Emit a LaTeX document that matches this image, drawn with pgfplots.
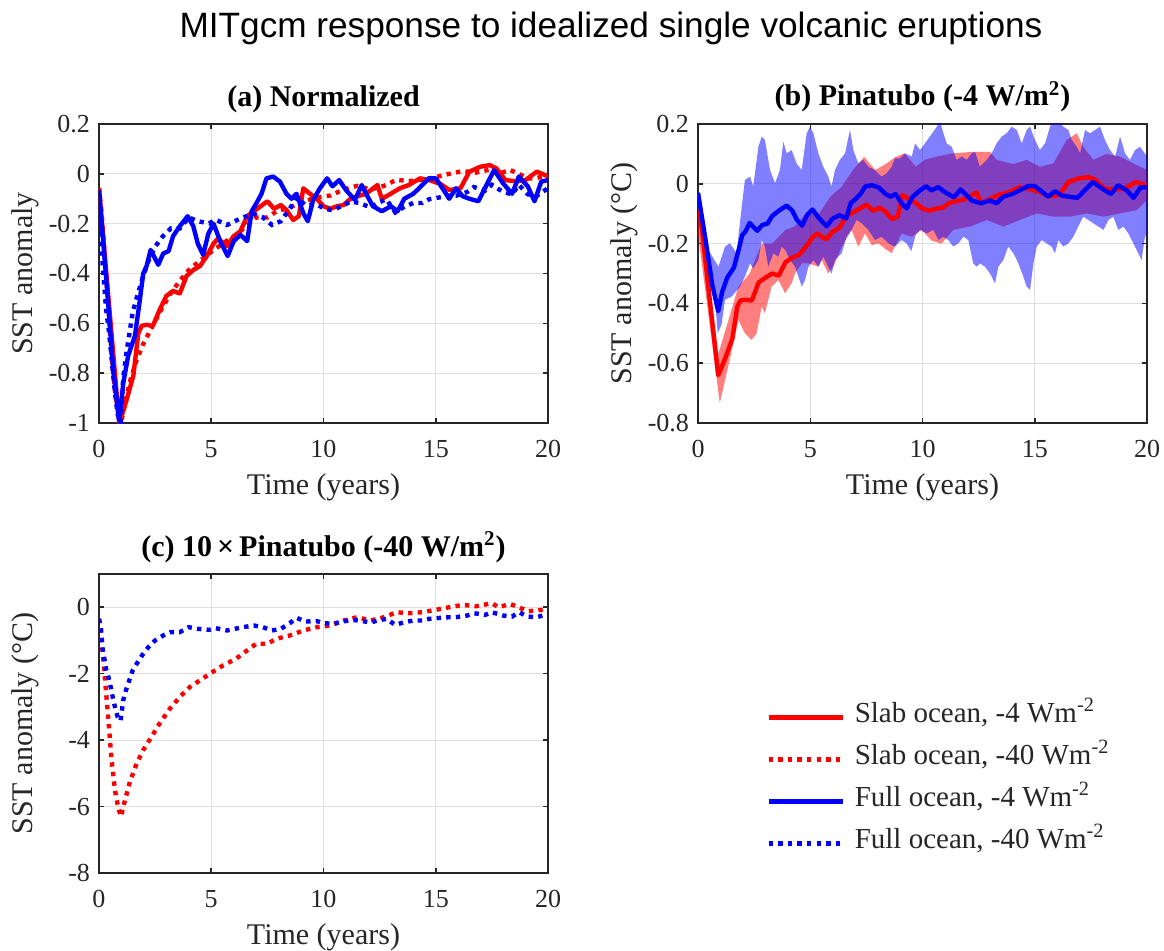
\documentclass[border=0pt]{standalone}
\usepackage{fontspec}
\setmainfont{Liberation Serif}
\newfontfamily\titlefont{Liberation Sans}
\usepackage{pgfplots}
\pgfplotsset{compat=1.18}
\usepgfplotslibrary{fillbetween}
\definecolor{axgray}{RGB}{38,38,38}
\definecolor{gridgray}{RGB}{223,223,223}
\pgfplotsset{
  redsolid/.style={color={rgb,1:red,1;green,0;blue,0}, line width=2.2pt, line join=round},
  reddot/.style={color={rgb,1:red,1;green,0;blue,0}, line width=2.2pt, dash pattern=on 2.2pt off 2.6pt},
  bluesolid/.style={color={rgb,1:red,0;green,0;blue,1}, line width=2.2pt, line join=round},
  bluedot/.style={color={rgb,1:red,0;green,0;blue,1}, line width=2.2pt, dash pattern=on 2.2pt off 2.6pt},
  mystyle/.style={
    scale only axis, width=224.5pt, height=149.5pt,
    xmin=0, xmax=20, xtick={0,5,10,15,20},
    axis line style={axgray, line width=0.75pt},
    every tick/.style={axgray, line width=0.75pt},
    major tick length=2.5pt,
    tick align=inside,
    grid=major, major grid style={gridgray, line width=0.5pt},
    /pgf/number format/assume math mode=true,
    tick label style={font=\fontsize{13}{15}\selectfont, text=axgray},
    xticklabel style={yshift=-5pt},
    yticklabel style={xshift=-1pt},
    label style={font=\fontsize{15}{18}\selectfont, text=axgray},
    xlabel style={at={(axis description cs:0.5,-0.2375)}, anchor=base},
    ylabel style={at={(axis description cs:-0.147,0.5)}, anchor=base},
    title style={font=\bfseries\fontsize{15}{18}\selectfont, at={(axis description cs:0.5,1)}, anchor=base, yshift=3pt},
    xlabel={Time (years)},
  },
}
\begin{document}
\begin{tikzpicture}
\node[font=\titlefont\fontsize{17.6}{20}\selectfont, anchor=base] at (305.5pt,-18.5pt) {MITgcm response to idealized single volcanic eruptions};

% ---------------- (a) ----------------
\begin{axis}[mystyle, at={(49.5pt,-211.5pt)}, anchor=south west,
  ymin=-1, ymax=0.2, ytick={-1,-0.8,-0.6,-0.4,-0.2,0,0.2},
  ylabel={SST anomaly}, title={(a) Normalized}]
\addplot[redsolid] coordinates {
(0,-0.058) (0.9,-1.0) (1.05,-0.96) (1.23,-0.907) (1.53,-0.81) (1.75,-0.64) (1.9,-0.61) (2.1,-0.606) (2.4,-0.61) (2.7,-0.546) (3.0,-0.49) (3.3,-0.47) (3.6,-0.48) (3.9,-0.41) (4.2,-0.386) (4.5,-0.37) (4.8,-0.33) (5.1,-0.28) (5.3,-0.26) (5.7,-0.29) (6.0,-0.25) (6.3,-0.23) (6.6,-0.17) (6.9,-0.15) (7.2,-0.13) (7.5,-0.11) (7.8,-0.14) (8.1,-0.125) (8.35,-0.145) (8.65,-0.185) (8.9,-0.17) (9.1,-0.058) (9.4,-0.08) (9.7,-0.1) (10.0,-0.13) (10.3,-0.14) (10.6,-0.13) (10.9,-0.125) (11.2,-0.1) (11.5,-0.09) (11.9,-0.08) (12.4,-0.045) (12.6,-0.1) (12.9,-0.085) (13.4,-0.058) (13.8,-0.045) (14.3,-0.018) (14.7,-0.025) (15.2,-0.04) (15.6,-0.065) (16.1,-0.058) (16.5,0.009) (17.0,0.029) (17.4,0.035) (17.7,0.022) (18.1,-0.025) (18.6,-0.03) (19.0,-0.025) (19.5,0.009) (20,-0.01)};
\addplot[reddot] coordinates {
(0,-0.056) (0.12,-0.159) (0.27,-0.349) (0.42,-0.54) (0.56,-0.73) (0.71,-0.873) (0.86,-0.96) (0.98,-1.0) (1.16,-0.921) (1.38,-0.833) (1.68,-0.746) (1.97,-0.683) (2.34,-0.619) (2.7,-0.556) (3.16,-0.484) (3.6,-0.429) (4.05,-0.381) (4.5,-0.349) (4.94,-0.317) (5.53,-0.278) (6.1,-0.246) (6.7,-0.198) (7.0,-0.175) (7.5,-0.175) (7.9,-0.151) (8.5,-0.135) (9.1,-0.111) (9.7,-0.095) (10.3,-0.087) (10.9,-0.063) (11.5,-0.048) (12.1,-0.063) (12.7,-0.048) (13.25,-0.024) (13.8,-0.029) (14.4,-0.024) (15.0,-0.013) (15.6,0) (16.2,0.011) (16.8,0.005) (17.5,0.019) (17.8,0) (18.3,0.016) (18.7,0) (19.1,-0.019) (19.5,-0.016) (20,-0.008)};
\addplot[bluesolid] coordinates {
(0,-0.065) (0.34,-0.44) (0.64,-0.79) (0.9,-0.99) (1.08,-0.84) (1.3,-0.73) (1.6,-0.65) (1.8,-0.52) (1.97,-0.4) (2.12,-0.37) (2.3,-0.305) (2.64,-0.365) (2.86,-0.32) (3.1,-0.31) (3.3,-0.25) (3.6,-0.21) (3.95,-0.17) (4.2,-0.21) (4.4,-0.28) (4.64,-0.325) (4.87,-0.24) (5.1,-0.2) (5.4,-0.27) (5.73,-0.33) (6.0,-0.27) (6.3,-0.245) (6.6,-0.27) (6.8,-0.15) (7.0,-0.12) (7.24,-0.08) (7.46,-0.018) (7.76,-0.011) (8.06,-0.031) (8.35,-0.08) (8.58,-0.1) (8.8,-0.08) (9.1,-0.158) (9.3,-0.19) (9.54,-0.105) (9.84,-0.058) (10.16,-0.018) (10.4,-0.05) (10.7,-0.025) (11.0,-0.065) (11.4,-0.105) (11.7,-0.045) (11.9,-0.08) (12.2,-0.13) (12.6,-0.15) (13.0,-0.13) (13.3,-0.15) (13.6,-0.1) (14.0,-0.08) (14.4,-0.045) (14.7,-0.018) (15.0,-0.018) (15.3,-0.058) (15.6,-0.1) (15.9,-0.058) (16.2,-0.09) (16.5,-0.1) (16.9,-0.11) (17.3,-0.038) (17.6,0.015) (18.0,-0.038) (18.4,-0.08) (18.7,-0.011) (19.1,-0.05) (19.4,-0.11) (19.7,-0.031) (20,-0.025)};
\addplot[bluedot] coordinates {
(0,-0.08) (0.09,-0.19) (0.16,-0.365) (0.24,-0.453) (0.31,-0.541) (0.42,-0.614) (0.52,-0.702) (0.61,-0.789) (0.71,-0.877) (0.83,-0.965) (0.96,-1.0) (1.08,-0.819) (1.2,-0.731) (1.35,-0.643) (1.5,-0.556) (1.7,-0.491) (1.94,-0.418) (2.2,-0.351) (2.5,-0.292) (2.86,-0.249) (3.2,-0.219) (3.6,-0.219) (4.0,-0.175) (4.4,-0.19) (4.9,-0.199) (5.2,-0.184) (5.7,-0.205) (6.05,-0.19) (6.4,-0.175) (6.9,-0.161) (7.3,-0.175) (7.7,-0.205) (8.1,-0.19) (8.5,-0.14) (8.8,-0.094) (9.2,-0.126) (9.7,-0.123) (10.05,-0.14) (10.4,-0.146) (10.9,-0.126) (11.2,-0.111) (11.6,-0.117) (12.1,-0.135) (12.4,-0.117) (12.8,-0.102) (13.2,-0.155) (13.6,-0.132) (14.0,-0.117) (14.4,-0.117) (14.7,-0.102) (15.2,-0.094) (15.6,-0.088) (15.9,-0.088) (16.4,-0.073) (16.7,-0.053) (17.2,-0.067) (17.5,-0.044) (18.0,-0.073) (18.4,-0.082) (18.7,-0.044) (19.1,-0.082) (19.5,-0.088) (20,-0.058)};
\end{axis}

% ---------------- (b) ----------------
\begin{axis}[mystyle, at={(349pt,-211.5pt)}, anchor=south west,
  ymin=-0.8, ymax=0.2, ytick={-0.8,-0.6,-0.4,-0.2,0,0.2},
  ylabel={SST anomaly (°C)}, title={(b) Pinatubo (-4 W/m\textsuperscript{2})}]
\addplot[name path=ru, draw=none, forget plot] coordinates {
(0,-0.02) (0.9,-0.57) (1.3,-0.47) (1.8,-0.344) (2.3,-0.3) (2.84,-0.2) (3.3,-0.2) (3.9,-0.154) (4.3,-0.143) (4.8,-0.1) (5.4,-0.099) (5.9,-0.043) (6.4,-0.01) (6.9,0.046) (7.4,0.09) (7.9,0.046) (8.4,0.068) (8.8,0.09) (9.2,0.102) (9.7,0.057) (10.1,0.08) (10.63,0.091) (11.37,0.102) (12.26,0.107) (13.01,0.107) (13.3,0.08) (14.05,0.066) (14.64,0.08) (15.23,0.057) (15.83,0.068) (16.42,0.146) (16.87,0.169) (17.16,0.124) (17.61,0.08) (18.2,0.1) (18.8,0.091) (19.39,0.068) (20,0.046)};
\addplot[name path=rl, draw=none, forget plot] coordinates {
(0,-0.167) (0.97,-0.733) (1.41,-0.589) (1.8,-0.455) (2.09,-0.5) (2.39,-0.522) (2.61,-0.5) (2.84,-0.411) (2.98,-0.433) (3.28,-0.344) (3.58,-0.322) (3.88,-0.366) (4.17,-0.333) (4.32,-0.3) (4.62,-0.266) (4.92,-0.266) (5.36,-0.277) (5.51,-0.255) (5.8,-0.3) (6.1,-0.266) (6.4,-0.21) (6.84,-0.154) (7.14,-0.21) (7.44,-0.166) (7.74,-0.205) (8.03,-0.199) (8.4,-0.221) (8.63,-0.232) (8.77,-0.21) (9.07,-0.166) (9.52,-0.177) (9.96,-0.154) (10.4,-0.19) (10.85,-0.2) (11.37,-0.154) (12.12,-0.143) (12.86,-0.121) (13.6,-0.143) (14.34,-0.121) (15.09,-0.099) (15.83,-0.11) (16.57,-0.11) (17.31,-0.099) (18.06,-0.11) (18.8,-0.099) (19.54,-0.088) (20,-0.054)};
\addplot[fill={rgb,1:red,1;green,0;blue,0}, fill opacity=0.5, draw=none, forget plot] fill between[of=ru and rl];
\addplot[name path=bu, draw=none, forget plot] coordinates {
(0,-0.032) (0.46,-0.221) (0.91,-0.277) (1.2,-0.21) (1.42,-0.199) (1.72,-0.232) (1.95,-0.076) (2.09,0.013) (2.32,0.024) (2.46,-0.009) (2.69,0.124) (2.84,0.158) (2.98,0.147) (3.21,0.046) (3.43,0.002) (3.65,0.046) (3.8,0.141) (3.95,0.102) (4.17,0.113) (4.39,0.068) (4.62,0.046) (4.84,0.169) (4.99,0.191) (5.14,0.169) (5.36,0.102) (5.58,0.057) (5.8,0.024) (5.95,-0.009) (6.1,0.046) (6.32,0.08) (6.55,0.102) (6.77,0.18) (6.92,0.113) (7.14,0.068) (7.36,0.08) (7.59,0.057) (7.88,0.046) (8.18,0.024) (8.4,0.035) (8.63,0.057) (8.77,0.085) (9.0,0.085) (9.22,0.102) (9.52,0.091) (9.67,0.135) (9.89,0.113) (10.33,0.158) (10.63,0.19) (10.78,0.21) (10.93,0.169) (11.08,0.135) (11.3,0.124) (11.52,0.08) (11.75,0.091) (11.97,0.08) (12.19,0.102) (12.34,0.107) (12.56,0.057) (12.86,0.08) (13.08,0.102) (13.3,0.135) (13.53,0.158) (13.75,0.169) (13.97,0.191) (14.2,0.18) (14.42,0.135) (14.64,0.18) (14.79,0.191) (15.01,0.146) (15.23,0.113) (15.46,0.135) (15.68,0.191) (15.83,0.21) (16.05,0.21) (16.27,0.191) (16.5,0.18) (16.65,0.146) (16.87,0.124) (17.02,0.102) (17.24,0.18) (17.46,0.169) (17.68,0.18) (17.91,0.191) (18.13,0.146) (18.35,0.113) (18.58,0.091) (18.8,0.158) (19.02,0.102) (19.24,0.08) (19.47,0.113) (19.69,0.124) (20,0.091)};
\addplot[name path=bl, draw=none, forget plot] coordinates {
(0,-0.037) (0.24,-0.154) (0.46,-0.255) (0.68,-0.322) (0.88,-0.5) (1.05,-0.47) (1.2,-0.388) (1.5,-0.377) (1.87,-0.344) (2.09,-0.31) (2.32,-0.266) (2.46,-0.283) (2.69,-0.255) (2.84,-0.188) (2.98,-0.21) (3.13,-0.277) (3.36,-0.232) (3.58,-0.244) (3.73,-0.21) (3.88,-0.221) (4.1,-0.255) (4.32,-0.277) (4.47,-0.31) (4.62,-0.344) (4.77,-0.322) (4.92,-0.277) (5.14,-0.255) (5.36,-0.277) (5.58,-0.244) (5.8,-0.277) (5.95,-0.3) (6.1,-0.255) (6.4,-0.232) (6.62,-0.177) (6.84,-0.154) (7.07,-0.121) (7.29,-0.132) (7.59,-0.154) (7.88,-0.188) (8.18,-0.177) (8.48,-0.199) (8.77,-0.21) (9.07,-0.188) (9.3,-0.2) (9.5,-0.225) (9.7,-0.17) (9.89,-0.154) (10.19,-0.166) (10.48,-0.154) (10.71,-0.188) (10.93,-0.177) (11.15,-0.188) (11.37,-0.21) (11.6,-0.199) (11.82,-0.177) (12.04,-0.188) (12.26,-0.266) (12.41,-0.277) (12.56,-0.266) (12.78,-0.277) (13.01,-0.3) (13.23,-0.333) (13.38,-0.277) (13.6,-0.255) (13.82,-0.21) (14.05,-0.232) (14.27,-0.266) (14.49,-0.31) (14.64,-0.344) (14.79,-0.355) (14.94,-0.266) (15.09,-0.21) (15.31,-0.188) (15.53,-0.199) (15.75,-0.21) (15.9,-0.232) (16.05,-0.188) (16.27,-0.21) (16.5,-0.199) (16.72,-0.177) (16.94,-0.143) (17.16,-0.11) (17.39,-0.121) (17.61,-0.132) (17.83,-0.143) (18.06,-0.154) (18.28,-0.121) (18.5,-0.11) (18.72,-0.154) (18.95,-0.143) (19.17,-0.166) (19.39,-0.199) (19.61,-0.232) (19.76,-0.255) (19.91,-0.177) (20,-0.166)};
\addplot[fill={rgb,1:red,0;green,0;blue,1}, fill opacity=0.5, draw=none, forget plot] fill between[of=bu and bl];
\addplot[redsolid] coordinates {
(0,-0.037) (0.9,-0.64) (1.05,-0.614) (1.23,-0.58) (1.53,-0.518) (1.75,-0.41) (1.9,-0.39) (2.1,-0.388) (2.4,-0.39) (2.7,-0.33) (3.0,-0.314) (3.3,-0.30) (3.6,-0.307) (3.9,-0.262) (4.2,-0.247) (4.5,-0.237) (4.8,-0.211) (5.1,-0.179) (5.3,-0.166) (5.7,-0.186) (6.0,-0.16) (6.3,-0.147) (6.6,-0.109) (6.9,-0.096) (7.2,-0.083) (7.5,-0.07) (7.8,-0.09) (8.1,-0.08) (8.35,-0.093) (8.65,-0.118) (8.9,-0.109) (9.1,-0.037) (9.4,-0.051) (9.7,-0.064) (10.0,-0.083) (10.3,-0.09) (10.6,-0.083) (10.9,-0.08) (11.2,-0.064) (11.5,-0.058) (11.9,-0.051) (12.4,-0.029) (12.6,-0.064) (12.9,-0.054) (13.4,-0.037) (13.8,-0.029) (14.3,-0.012) (14.7,-0.016) (15.2,-0.026) (15.6,-0.042) (16.1,-0.037) (16.5,0.006) (17.0,0.019) (17.4,0.022) (17.7,0.014) (18.1,-0.016) (18.6,-0.019) (19.0,-0.016) (19.5,0.006) (20,-0.006)};
\addplot[bluesolid] coordinates {
(0,-0.03) (0.34,-0.189) (0.64,-0.34) (0.9,-0.426) (1.08,-0.361) (1.3,-0.314) (1.6,-0.28) (1.8,-0.224) (1.97,-0.172) (2.12,-0.159) (2.3,-0.131) (2.64,-0.157) (2.86,-0.138) (3.1,-0.133) (3.3,-0.108) (3.6,-0.09) (3.95,-0.073) (4.2,-0.09) (4.4,-0.12) (4.64,-0.14) (4.87,-0.103) (5.1,-0.086) (5.4,-0.116) (5.73,-0.142) (6.0,-0.116) (6.3,-0.105) (6.6,-0.116) (6.8,-0.065) (7.0,-0.052) (7.24,-0.034) (7.46,-0.008) (7.76,-0.005) (8.06,-0.013) (8.35,-0.034) (8.58,-0.043) (8.8,-0.034) (9.1,-0.068) (9.3,-0.082) (9.54,-0.045) (9.84,-0.025) (10.16,-0.008) (10.4,-0.022) (10.7,-0.011) (11.0,-0.028) (11.4,-0.045) (11.7,-0.019) (11.9,-0.034) (12.2,-0.056) (12.6,-0.065) (13.0,-0.056) (13.3,-0.065) (13.6,-0.043) (14.0,-0.034) (14.4,-0.019) (14.7,-0.008) (15.0,-0.008) (15.3,-0.025) (15.6,-0.043) (15.9,-0.025) (16.2,-0.039) (16.5,-0.043) (16.9,-0.047) (17.3,-0.016) (17.6,0.006) (18.0,-0.016) (18.4,-0.034) (18.7,-0.005) (19.1,-0.022) (19.4,-0.047) (19.7,-0.013) (20,-0.011)};
\end{axis}

% ---------------- (c) ----------------
\begin{axis}[mystyle, at={(49.5pt,-436.5pt)}, anchor=south west,
  ymin=-8, ymax=1, ytick={-8,-6,-4,-2,0},
  ylabel={SST anomaly (°C)}, title={(c) 10\,×\,Pinatubo (-40 W/m\textsuperscript{2})},
  legend image code/.code={\draw[#1] (0pt,0pt) -- (37pt,0pt);},
  legend cell align=left,
  legend style={draw=none, fill=none, at={(axis description cs:1.4855,0.592)}, anchor=north west,
    font=\fontsize{14.5}{17}\selectfont, text=axgray, inner sep=0pt, row sep=0pt, column sep=5pt,
    nodes={inner sep=0pt, text height=13pt, text depth=8pt}}]
\addlegendimage{redsolid}
\addlegendentry{Slab ocean, -4 Wm\textsuperscript{-2}}
\addplot[reddot] coordinates {
(0,-0.35) (0.12,-1.0) (0.27,-2.2) (0.42,-3.4) (0.56,-4.6) (0.71,-5.5) (0.86,-6.05) (0.98,-6.3) (1.16,-5.8) (1.38,-5.25) (1.68,-4.7) (1.97,-4.3) (2.34,-3.9) (2.7,-3.5) (3.16,-3.05) (3.6,-2.7) (4.05,-2.4) (4.5,-2.2) (4.94,-2.0) (5.53,-1.75) (6.1,-1.55) (6.7,-1.25) (7.0,-1.1) (7.5,-1.1) (7.9,-0.95) (8.5,-0.85) (9.1,-0.7) (9.7,-0.6) (10.3,-0.55) (10.9,-0.4) (11.5,-0.3) (12.1,-0.4) (12.7,-0.3) (13.25,-0.15) (13.8,-0.18) (14.4,-0.15) (15.0,-0.08) (15.6,0.0) (16.2,0.07) (16.8,0.03) (17.5,0.12) (17.8,0.0) (18.3,0.1) (18.7,0.0) (19.1,-0.12) (19.5,-0.1) (20,-0.05)};
\addlegendentry{Slab ocean, -40 Wm\textsuperscript{-2}}
\addlegendimage{bluesolid}
\addlegendentry{Full ocean, -4 Wm\textsuperscript{-2}}
\addplot[bluedot] coordinates {
(0,-0.35) (0.09,-0.65) (0.16,-1.25) (0.24,-1.55) (0.31,-1.85) (0.42,-2.1) (0.52,-2.4) (0.61,-2.7) (0.71,-3.0) (0.83,-3.3) (0.96,-3.42) (1.08,-2.8) (1.2,-2.5) (1.35,-2.2) (1.5,-1.9) (1.7,-1.68) (1.94,-1.43) (2.2,-1.2) (2.5,-1.0) (2.86,-0.85) (3.2,-0.75) (3.6,-0.75) (4.0,-0.6) (4.4,-0.65) (4.9,-0.68) (5.2,-0.63) (5.7,-0.7) (6.05,-0.65) (6.4,-0.6) (6.9,-0.55) (7.3,-0.6) (7.7,-0.7) (8.1,-0.65) (8.5,-0.48) (8.8,-0.32) (9.2,-0.43) (9.7,-0.42) (10.05,-0.48) (10.4,-0.5) (10.9,-0.43) (11.2,-0.38) (11.6,-0.4) (12.1,-0.46) (12.4,-0.4) (12.8,-0.35) (13.2,-0.53) (13.6,-0.45) (14.0,-0.4) (14.4,-0.4) (14.7,-0.35) (15.2,-0.32) (15.6,-0.3) (15.9,-0.3) (16.4,-0.25) (16.7,-0.18) (17.2,-0.23) (17.5,-0.15) (18.0,-0.25) (18.4,-0.28) (18.7,-0.15) (19.1,-0.28) (19.5,-0.3) (20,-0.2)};
\addlegendentry{Full ocean, -40 Wm\textsuperscript{-2}}
\end{axis}
\pgfresetboundingbox
\path[use as bounding box] (0,0) rectangle (582pt,-475pt);
\end{tikzpicture}
\end{document}
